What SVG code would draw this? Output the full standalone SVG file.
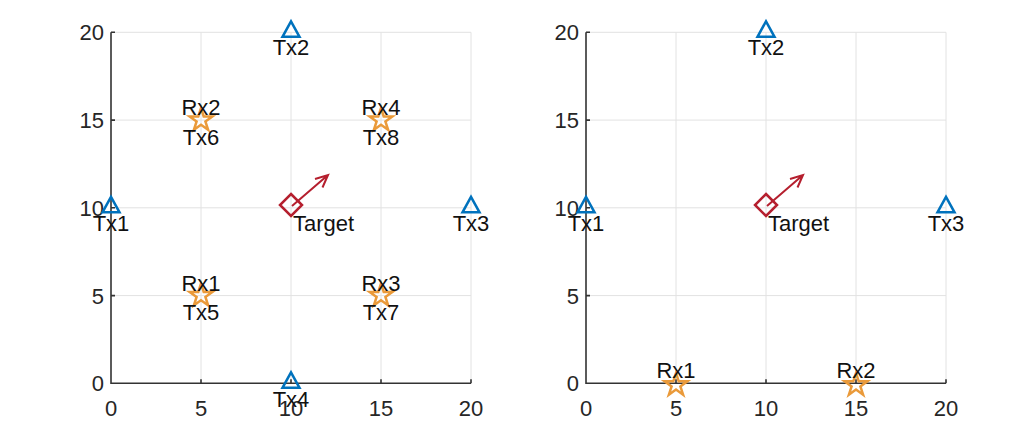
<svg xmlns="http://www.w3.org/2000/svg" width="1017" height="432" viewBox="0 0 1017 432">
<defs>
<style>
.grid{stroke:#e2e2e2;stroke-width:1;fill:none}
.axis{stroke:#333333;stroke-width:1.6;fill:none}
.tick{font-family:"Liberation Sans",Arial,sans-serif;font-size:22px;fill:#262626}
.lbl{font-family:"Liberation Sans",Arial,sans-serif;font-size:22px;fill:#111111}
.c{text-anchor:middle}
.s{text-anchor:start}
.tri{fill:none;stroke:#0072BD;stroke-width:2.5;stroke-linejoin:miter}
.star{fill:none;stroke:#EA9A3A;stroke-width:2.5;stroke-linejoin:miter}
.dia{fill:none;stroke:#B51F2E;stroke-width:2.5}
.arr{fill:none;stroke:#B51F2E;stroke-width:2}
</style>
<polygon id="triShape" points="0,-11 8.5,4.5 -8.5,4.5"/>
<polygon id="starShape" points="0,-12 2.7,-3.7 11.4,-3.7 4.4,1.4 7.1,9.7 0,4.6 -7.1,9.7 -4.4,1.4 -11.4,-3.7 -2.7,-3.7"/>
</defs>
<rect width="1017" height="432" fill="#ffffff"/>

<!-- Left axes -->
<g id="axes-left">
<path class="grid" d="M201,32.3V383.3M291,32.3V383.3M381,32.3V383.3M471,32.3V383.3M111,295.6H471M111,207.8H471M111,120.1H471M111,32.3H471"/>
<path class="axis" d="M111,32.3V383.3H471"/>
<path class="axis" d="M201,383.3v-4M291,383.3v-4M381,383.3v-4M471,383.3v-4M111,295.6h4M111,207.8h4M111,120.1h4M111,32.3h4"/>
<g class="tick" text-anchor="middle">
<text x="111" y="416">0</text><text x="201" y="416">5</text><text x="291" y="416">10</text><text x="381" y="416">15</text><text x="471" y="416">20</text>
</g>
<g class="tick" text-anchor="end">
<text x="104" y="391.3">0</text><text x="104" y="303.6">5</text><text x="104" y="215.8">10</text><text x="104" y="128.1">15</text><text x="104" y="40.3">20</text>
</g>
</g>

<!-- Right axes -->
<g id="axes-right">
<path class="grid" d="M676,32.3V383.3M766,32.3V383.3M856,32.3V383.3M946,32.3V383.3M586,295.6H946M586,207.8H946M586,120.1H946M586,32.3H946"/>
<path class="axis" d="M586,32.3V383.3H946"/>
<path class="axis" d="M676,383.3v-4M766,383.3v-4M856,383.3v-4M946,383.3v-4M586,295.6h4M586,207.8h4M586,120.1h4M586,32.3h4"/>
<g class="tick" text-anchor="middle">
<text x="586" y="416">0</text><text x="676" y="416">5</text><text x="766" y="416">10</text><text x="856" y="416">15</text><text x="946" y="416">20</text>
</g>
<g class="tick" text-anchor="end">
<text x="579" y="391.3">0</text><text x="579" y="303.6">5</text><text x="579" y="215.8">10</text><text x="579" y="128.1">15</text><text x="579" y="40.3">20</text>
</g>
</g>

<!-- Left plot nodes -->
<g id="L-Tx1"><use href="#triShape" class="tri" x="111" y="207.8"/><text class="lbl c" x="111" y="231">Tx1</text></g>
<g id="L-Tx2"><use href="#triShape" class="tri" x="291" y="32.3"/><text class="lbl c" x="291" y="55">Tx2</text></g>
<g id="L-Tx3"><use href="#triShape" class="tri" x="471" y="207.8"/><text class="lbl c" x="471" y="231">Tx3</text></g>
<g id="L-Tx4"><use href="#triShape" class="tri" x="291" y="383.3"/><text class="lbl c" x="291" y="407">Tx4</text></g>
<g id="L-Rx1-Tx5"><use href="#starShape" class="star" x="201" y="295.6"/><text class="lbl c" x="201" y="290.6">Rx1</text><text class="lbl c" x="201" y="320">Tx5</text></g>
<g id="L-Rx2-Tx6"><use href="#starShape" class="star" x="201" y="120.1"/><text class="lbl c" x="201" y="115.1">Rx2</text><text class="lbl c" x="201" y="144.5">Tx6</text></g>
<g id="L-Rx3-Tx7"><use href="#starShape" class="star" x="381" y="295.6"/><text class="lbl c" x="381" y="290.6">Rx3</text><text class="lbl c" x="381" y="320">Tx7</text></g>
<g id="L-Rx4-Tx8"><use href="#starShape" class="star" x="381" y="120.1"/><text class="lbl c" x="381" y="115.1">Rx4</text><text class="lbl c" x="381" y="144.5">Tx8</text></g>
<g id="L-Target">
<polygon class="dia" points="291,194 302,205 291,216 280,205"/>
<text class="lbl s" x="293" y="231">Target</text>
</g>

<!-- Right plot nodes -->
<g id="R-Tx1"><use href="#triShape" class="tri" x="586" y="207.8"/><text class="lbl c" x="586" y="231">Tx1</text></g>
<g id="R-Tx2"><use href="#triShape" class="tri" x="766" y="32.3"/><text class="lbl c" x="766" y="55">Tx2</text></g>
<g id="R-Tx3"><use href="#triShape" class="tri" x="946" y="207.8"/><text class="lbl c" x="946" y="231">Tx3</text></g>
<g id="R-Rx1"><use href="#starShape" class="star" x="676" y="385"/><text class="lbl c" x="676" y="378">Rx1</text></g>
<g id="R-Rx2"><use href="#starShape" class="star" x="856" y="385"/><text class="lbl c" x="856" y="378">Rx2</text></g>
<g id="R-Target">
<polygon class="dia" points="766,194 777,205 766,216 755,205"/>
<text class="lbl s" x="768" y="231">Target</text>
</g>

<!-- Connectors (velocity arrows) -->
<g id="connectors">
<path class="arr" d="M292,206L328,175M315,179L328,175L322.5,187.5"/>
<path class="arr" d="M767,206L803,175M790,179L803,175L797.5,187.5"/>
</g>
</svg>
